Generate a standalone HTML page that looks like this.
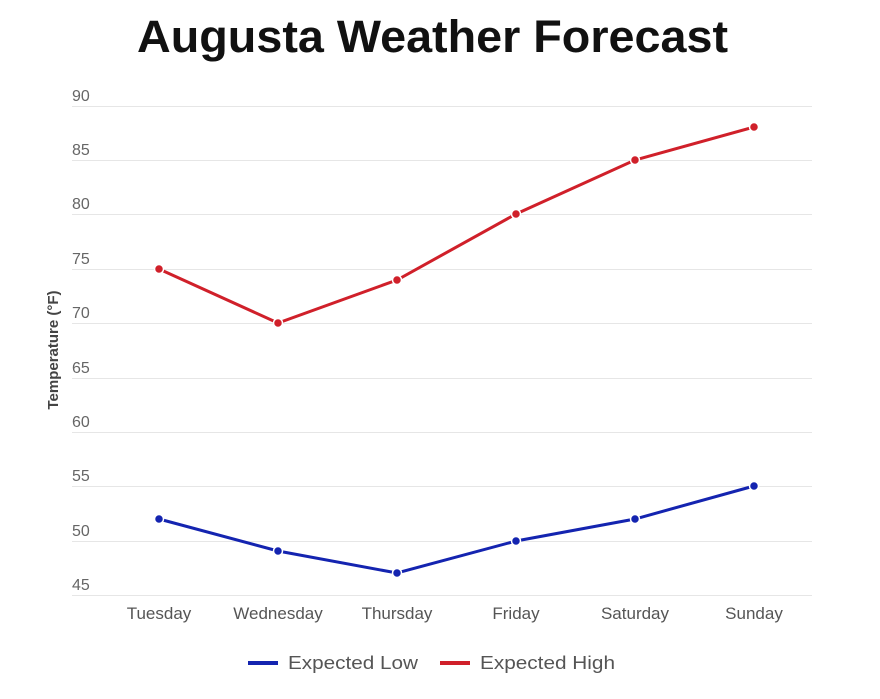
<!DOCTYPE html>
<html><head><meta charset="utf-8"><style>
body{margin:0;background:#fff;width:880px;height:694px;overflow:hidden;font-family:"Liberation Sans",sans-serif}
</style></head><body>
<svg width="880" height="694" xmlns="http://www.w3.org/2000/svg">
<text x="137" y="52" textLength="591" lengthAdjust="spacingAndGlyphs" font-family="Liberation Sans" font-weight="bold" font-size="45" fill="#111">Augusta Weather Forecast</text>
<g stroke="#e6e6e6" stroke-width="1">
<line x1="72" x2="812" y1="106.5" y2="106.5"/><line x1="72" x2="812" y1="160.5" y2="160.5"/><line x1="72" x2="812" y1="214.5" y2="214.5"/><line x1="72" x2="812" y1="269.5" y2="269.5"/><line x1="72" x2="812" y1="323.5" y2="323.5"/><line x1="72" x2="812" y1="378.5" y2="378.5"/><line x1="72" x2="812" y1="432.5" y2="432.5"/><line x1="72" x2="812" y1="486.5" y2="486.5"/><line x1="72" x2="812" y1="541.5" y2="541.5"/><line x1="72" x2="812" y1="595.5" y2="595.5"/>
</g>
<g font-size="16" fill="#666">
<text x="72" y="101">90</text><text x="72" y="155">85</text><text x="72" y="209">80</text><text x="72" y="264">75</text><text x="72" y="318">70</text><text x="72" y="373">65</text><text x="72" y="427">60</text><text x="72" y="481">55</text><text x="72" y="536">50</text><text x="72" y="590">45</text>
</g>
<text transform="translate(58,350) rotate(-90)" text-anchor="middle" font-size="15" font-weight="bold" fill="#444">Temperature (°F)</text>
<g font-size="17" fill="#555" text-anchor="middle">
<text x="159" y="619">Tuesday</text><text x="278" y="619">Wednesday</text><text x="397" y="619">Thursday</text><text x="516" y="619">Friday</text><text x="635" y="619">Saturday</text><text x="754" y="619">Sunday</text>
</g>
<polyline fill="none" stroke="#d0202a" stroke-width="3" points="159,269 278,323 397,280 516,214 635,160 754,127"/>
<polyline fill="none" stroke="#1424b0" stroke-width="3" points="159,519 278,551 397,573 516,541 635,519 754,486"/>
<g fill="#d0202a" stroke="#fff" stroke-width="1.5">
<circle cx="159" cy="269" r="4.5"/><circle cx="278" cy="323" r="4.5"/><circle cx="397" cy="280" r="4.5"/><circle cx="516" cy="214" r="4.5"/><circle cx="635" cy="160" r="4.5"/><circle cx="754" cy="127" r="4.5"/>
</g>
<g fill="#1424b0" stroke="#fff" stroke-width="1.5">
<circle cx="159" cy="519" r="4.5"/><circle cx="278" cy="551" r="4.5"/><circle cx="397" cy="573" r="4.5"/><circle cx="516" cy="541" r="4.5"/><circle cx="635" cy="519" r="4.5"/><circle cx="754" cy="486" r="4.5"/>
</g>
<line x1="248" x2="278" y1="663" y2="663" stroke="#1424b0" stroke-width="4"/>
<text x="288" y="669" font-size="18" textLength="130" lengthAdjust="spacingAndGlyphs" fill="#555">Expected Low</text>
<line x1="440" x2="470" y1="663" y2="663" stroke="#d0202a" stroke-width="4"/>
<text x="480" y="669" font-size="18" textLength="135" lengthAdjust="spacingAndGlyphs" fill="#555">Expected High</text>
</svg>
</body></html>
